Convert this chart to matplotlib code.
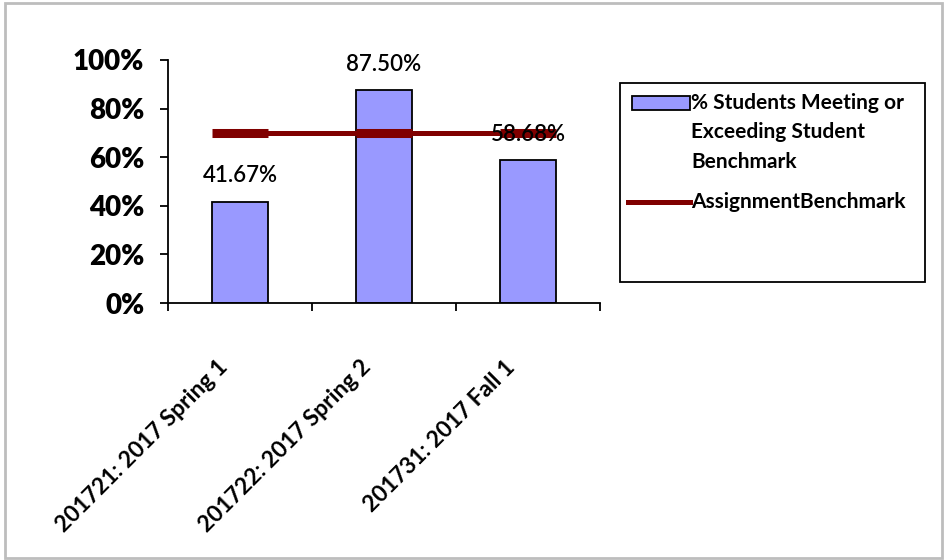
import matplotlib.pyplot as plt
import matplotlib.transforms as mtransforms
from matplotlib.patches import Rectangle
from matplotlib.lines import Line2D

plt.rcParams['font.family'] = ['Lato', 'DejaVu Sans']

# data
terms = ['201721: 2017 Spring 1', '201722: 2017 Spring 2', '201731: 2017 Fall 1']
pct_meeting = [41.67, 87.50, 58.68]
benchmark = [70, 70, 70]
y_ticks = [0, 20, 40, 60, 80, 100]
legend_labels = ['% Students Meeting or\nExceeding Student\nBenchmark', 'AssignmentBenchmark']

W, H = 949, 560
fig = plt.figure(figsize=(W / 100, H / 100), dpi=100)

# outer grey frame
fig.patches.append(Rectangle((5 / W, 2 / H), 937 / W, 555 / H, transform=fig.transFigure,
                             fill=False, edgecolor='#bdbdbd', lw=2))

ax = fig.add_axes([168 / W, 1 - 303 / H, 432 / W, 243 / H])
x = list(range(len(terms)))

ax.bar(x, pct_meeting, width=0.39, color='#9999ff', edgecolor='black', lw=1.3, zorder=2)
ax.plot(x, benchmark, color='#800000', lw=3.6, marker='_', markersize=40, mew=6.5, zorder=3)

for xi, v in zip(x, pct_meeting):
    ax.annotate('%.2f%%' % v, (xi, v), xytext=(0, 11), textcoords='offset points',
                ha='center', va='bottom', fontsize=16, fontweight='semibold', zorder=5)

ax.set_xlim(-0.5, 2.5)
ax.set_ylim(0, 100)
ax.set_yticks(y_ticks, ['%d%%' % t for t in y_ticks])
ax.tick_params(axis='y', length=6, width=1.3, pad=11, labelsize=20)
for lab in ax.get_yticklabels():
    lab.set_fontweight('heavy')

ax.set_xticks(x, terms)
ax.set_xticks([-0.5, 0.5, 1.5, 2.5], minor=True)
ax.tick_params(axis='x', which='major', length=0, pad=44, labelsize=16.5)
ax.tick_params(axis='x', which='minor', length=6, width=1.3, direction='out')
shift = mtransforms.ScaledTranslation(-16 / 100, 0, fig.dpi_scale_trans)
for lab in ax.get_xticklabels():
    lab.set_rotation(45)
    lab.set_ha('right')
    lab.set_va('center')
    lab.set_rotation_mode('anchor')
    lab.set_fontweight('bold')
    lab.set_transform(lab.get_transform() + shift)

for s in ['top', 'right']:
    ax.spines[s].set_visible(False)
for s in ['left', 'bottom']:
    ax.spines[s].set_linewidth(1.3)

# legend, laid out by hand like the spreadsheet one
fig.patches.append(Rectangle((620 / W, 1 - 282 / H), 305 / W, 199 / H, transform=fig.transFigure,
                             fill=False, edgecolor='black', lw=1.3))
fig.patches.append(Rectangle((632 / W, 1 - 110 / H), 58 / W, 14 / H, transform=fig.transFigure,
                             facecolor='#9999ff', edgecolor='black', lw=1.3))
fig.lines.append(Line2D([628 / W, 690 / W], [1 - 202 / H, 1 - 202 / H], transform=fig.transFigure,
                        color='#800000', lw=3.6))
fig.text(691 / W, 1 - 93 / H, legend_labels[0], ha='left', va='top', fontsize=15,
         fontweight='bold', linespacing=1.58)
fig.text(691 / W, 1 - 202 / H, legend_labels[1], ha='left', va='center', fontsize=15,
         fontweight='bold')

fig.savefig('out.png', dpi=100)
